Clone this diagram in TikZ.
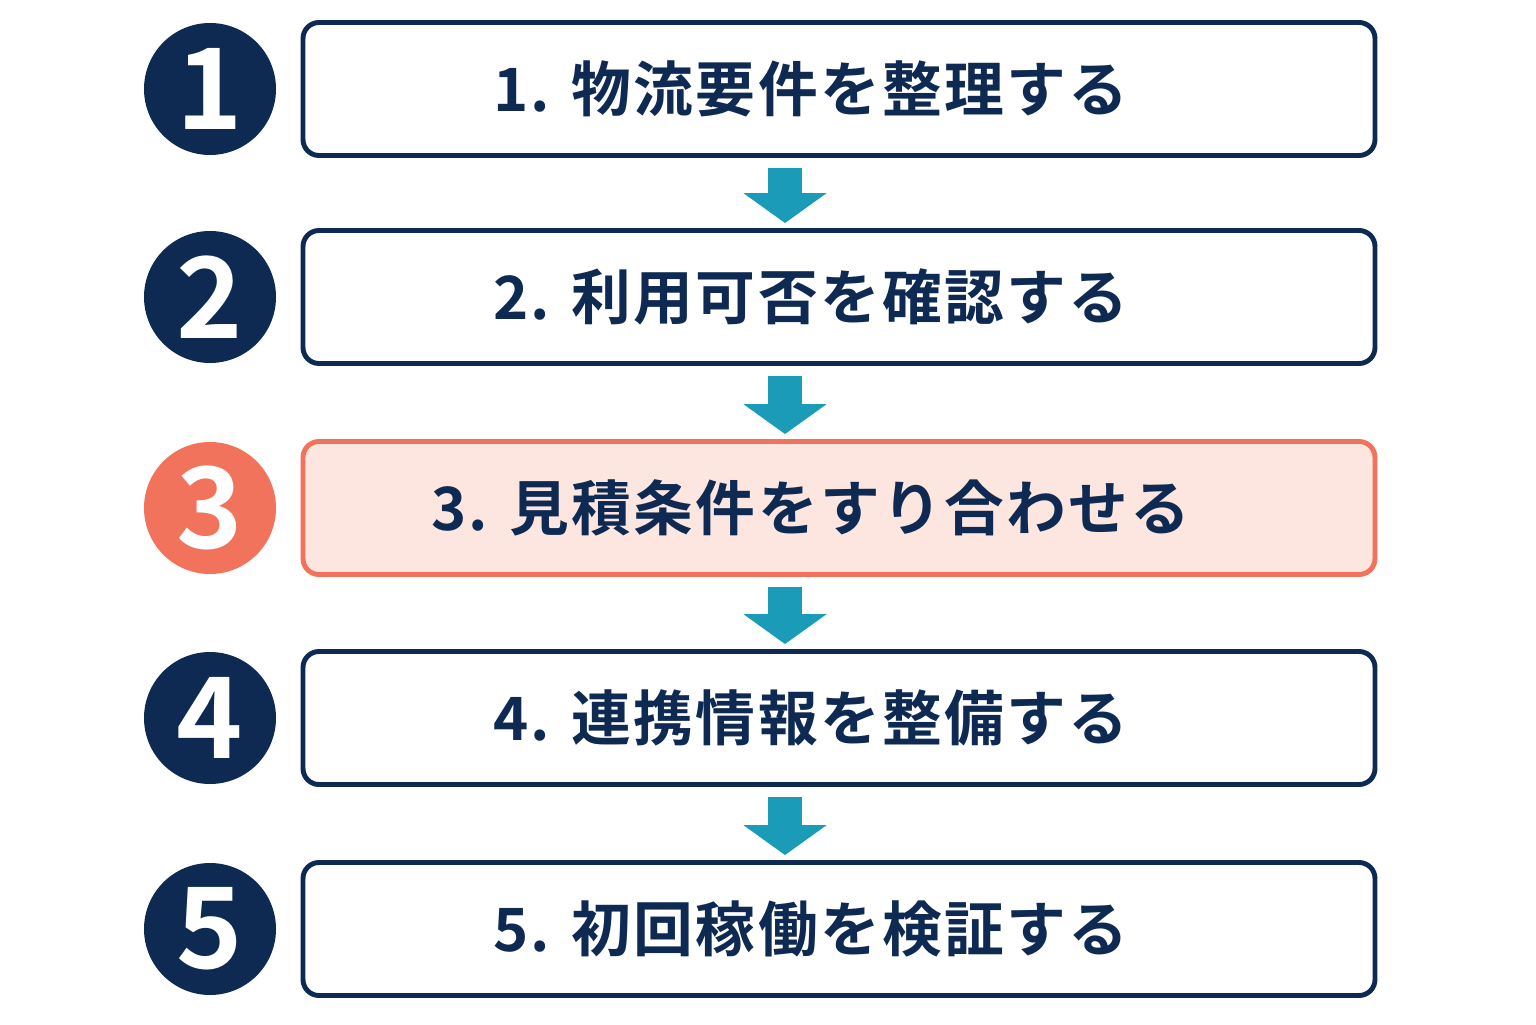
\documentclass[tikz,border=0pt]{standalone}
\usepackage{fontspec}
\newfontfamily\cjk{Noto Sans CJK JP Bold}
\newfontfamily\cjkwide[LetterSpace=4]{Noto Sans CJK JP Bold}
\usetikzlibrary{arrows.meta}
\definecolor{navy}{HTML}{0E2A52}
\definecolor{coral}{HTML}{F2735B}
\definecolor{blush}{HTML}{FDE6DF}
\definecolor{teal}{HTML}{1A9CB9}
\tikzset{
  stage/.style={draw=navy, line width=1.4pt, rounded corners=0.16cm, fill=white,
    minimum width=10.72cm, minimum height=1.33cm, text=navy, font=\cjkwide\fontsize{17}{20}\selectfont},
  badge/.style={circle, fill=navy, minimum size=1.32cm, inner sep=0pt, text=white,
    font=\cjk\fontsize{32}{34}\selectfont},
  hot/.style={draw=coral, fill=blush},
  flow/.style={teal, line width=0.34cm, -{Triangle[width=0.82cm,length=0.3cm]}, shorten <=0.1cm, shorten >=0.05cm}
}
\newcommand\lefted[1]{#1\hspace*{0.56cm}}
\begin{document}
\begin{tikzpicture}
\useasboundingbox (0,0) rectangle (15.36,10.24);
\node[stage] (s1) at (8.39,9.35) {\lefted{1. 物流要件を整理する}};
\node[stage] (s2) at (8.39,7.27) {\lefted{2. 利用可否を確認する}};
\node[stage,hot] (s3) at (8.39,5.16) {\lefted{3. 見積条件をすり合わせる}};
\node[stage] (s4) at (8.39,3.06) {\lefted{4. 連携情報を整備する}};
\node[stage] (s5) at (8.39,0.95) {\lefted{5. 初回稼働を検証する}};
\node[badge] (b1) at (2.10,9.35) {1};
\node[badge] (b2) at (2.10,7.27) {2};
\node[badge,fill=coral] (b3) at (2.10,5.16) {3};
\node[badge] (b4) at (2.10,3.06) {4};
\node[badge] (b5) at (2.10,0.95) {5};
\foreach \a/\b in {1/2,2/3,3/4,4/5}
  \draw[flow] ([xshift=-0.54cm]s\a.south) -- ([xshift=-0.54cm]s\b.north);
\end{tikzpicture}
\end{document}
